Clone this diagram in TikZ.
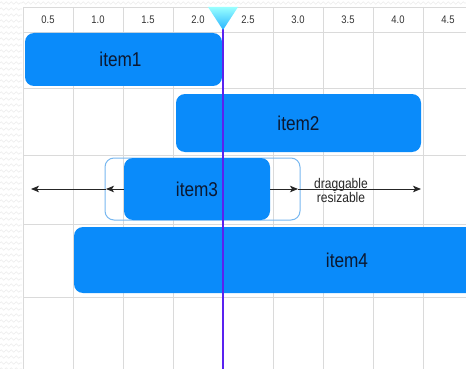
\documentclass[tikz,border=0pt]{standalone}
\usepackage{fontspec}
\setmainfont{Liberation Sans}
\newfontfamily\narrowfont[FakeStretch=0.86]{Liberation Sans}
\usetikzlibrary{arrows.meta,decorations.pathmorphing}
\definecolor{gridc}{HTML}{DADADA}
\definecolor{itemblue}{HTML}{0A8BFA}
\definecolor{ghostc}{HTML}{78B8F0}
\definecolor{itemtext}{HTML}{0C1830}
\definecolor{headtext}{HTML}{333333}
\definecolor{playc}{HTML}{5A22F0}
\definecolor{wavec}{HTML}{ECECEC}
\tikzset{
  itembox/.style={fill=itemblue, draw=none, rounded corners=9pt, inner sep=0pt,
    font=\narrowfont\fontsize{20}{22}\selectfont, text=itemtext},
  ghostbox/.style={draw=ghostc, line width=1pt, rounded corners=9pt, inner sep=0pt, fill=none},
  headlabel/.style={font=\narrowfont\fontsize{11}{12}\selectfont, text=headtext, inner sep=0pt},
  gridline/.style={draw=gridc, line width=0.8pt},
  dimarrow/.style={draw=black!85, line width=1pt, -{Stealth[length=8pt,width=6.5pt,inset=2pt]}},
  wave/.style={draw=wavec, line width=0.6pt, decorate, decoration={zigzag, segment length=5pt, amplitude=1.3pt}},
  note/.style={font=\narrowfont\fontsize{14}{14}\selectfont, text=black!85, align=center, inner sep=0pt}
}
\begin{document}
\begin{tikzpicture}[x=1pt,y=-1pt]
\useasboundingbox (0,0) rectangle (466,369);
\clip (0,0) rectangle (466,369);
\fill[white] (0,0) rectangle (466,369);
% wavy background on the left and top
\foreach \y in {3,9,...,369} { \draw[wave] (0,\y) -- (22,\y); }
\draw[wave] (22,3) -- (466,3);
% grid
\foreach \x in {23,73,...,473} { \draw[gridline] (\x,7) -- (\x,369); }
\foreach \y in {7,32,88,155,224,297} { \draw[gridline] (23,\y) -- (466,\y); }
% header labels
\foreach \v [count=\i from 0] in {0.5,1.0,1.5,2.0,2.5,3.0,3.5,4.0,4.5} {
  \node[headlabel] (h\i) at (48+50*\i,20) {\v};
}
% items
\node[itembox, minimum width=197pt, minimum height=53pt] (item1) at (123.5,59.5) {\hspace*{-6pt}item1};
\node[itembox, minimum width=245pt, minimum height=58pt] (item2) at (298.5,123) {item2};
\node[ghostbox, minimum width=195pt, minimum height=62pt] (ghost3) at (202.5,189) {};
\node[itembox, minimum width=146pt, minimum height=62pt] (item3) at (197,189) {item3};
\node[itembox, minimum width=546pt, minimum height=66pt] (item4) at (347,260) {item4};
% drag / resize arrows
\coordinate (lend) at (31,189);
\coordinate (rend) at (421,189);
\coordinate (lmid) at (106,189);
\coordinate (rmid) at (298,189);
\draw[dimarrow] (item3.west) -- (lmid);
\draw[dimarrow] (lmid) -- (lend);
\draw[dimarrow] (item3.east) -- (rmid);
\draw[dimarrow] (rmid) -- (rend);
\node[note] (lbl) at (341,190) {draggable\\[0pt]resizable};
% playhead
\coordinate (ptop) at (223,20);
\coordinate (pbot) at (223,369);
\draw[playc, line width=2pt] (ptop) -- (pbot);
\coordinate (tl) at (208,7);
\coordinate (tr) at (238,7);
\coordinate (tp) at (223,30);
\shade[top color=cyan!40!white, bottom color=cyan!65!blue!85] (tl) -- (tr) -- (tp) -- cycle;
\end{tikzpicture}
\end{document}
